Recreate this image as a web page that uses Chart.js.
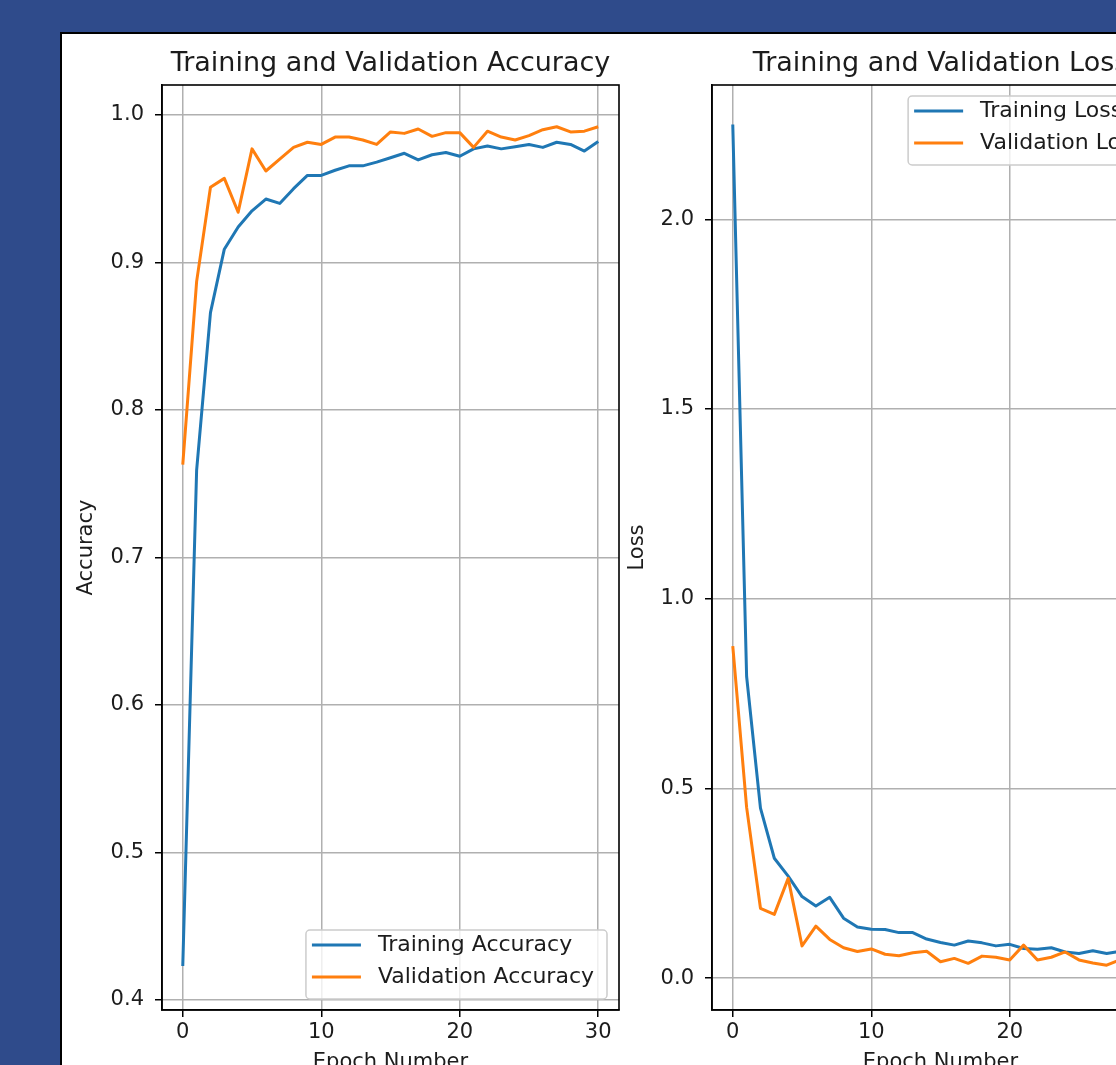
<!DOCTYPE html>
<html>
<head>
<meta charset="utf-8">
<script src="https://cdn.jsdelivr.net/npm/chart.js@4.4.0/dist/chart.umd.min.js"></script>
<style>
  html, body { margin: 0; padding: 0; }
  body { width: 1116px; height: 1065px; overflow: hidden; background: #2f4b8b; position: relative; }
  #figure { position: absolute; left: 60px; top: 32px; width: 1100px; height: 1100px; background: #fff;
            border-left: 2px solid #000; border-top: 2px solid #000; }
  canvas { position: absolute; }
  #accChart { left: 62px; top: 34px; }
  #lossChart { left: 612px; top: 34px; }
</style>
</head>
<body>
<div id="figure"></div>
<canvas id="accChart" width="578" height="1066"></canvas>
<canvas id="lossChart" width="578" height="1066"></canvas>
<script>
// Data
const epochs = [0, 1, 2, 3, 4, 5, 6, 7, 8, 9, 10, 11, 12, 13, 14, 15, 16, 17, 18, 19, 20,
                21, 22, 23, 24, 25, 26, 27, 28, 29, 30];
const trainAcc = [0.423, 0.759, 0.866, 0.909, 0.924, 0.935, 0.943, 0.940, 0.950, 0.959, 0.959,
                  0.9625, 0.9655, 0.9655, 0.968, 0.971, 0.974, 0.9695, 0.973, 0.9745, 0.972,
                  0.977, 0.979, 0.977, 0.9785, 0.980, 0.978, 0.9815, 0.980, 0.9755, 0.982];
const valAcc = [0.763, 0.887, 0.951, 0.957, 0.934, 0.977, 0.962, 0.970, 0.978, 0.9815, 0.980,
                0.985, 0.985, 0.983, 0.980, 0.9885, 0.9875, 0.9905, 0.9855, 0.988, 0.988,
                0.978, 0.989, 0.985, 0.983, 0.986, 0.990, 0.992, 0.9885, 0.989, 0.992];
const trainLoss = [2.25, 0.795, 0.448, 0.316, 0.269, 0.215, 0.190, 0.213, 0.158, 0.135, 0.129,
                   0.128, 0.120, 0.120, 0.103, 0.094, 0.087, 0.098, 0.093, 0.085, 0.089,
                   0.078, 0.076, 0.080, 0.069, 0.065, 0.072, 0.065, 0.071, 0.066, 0.062];
const valLoss = [0.875, 0.45, 0.184, 0.168, 0.263, 0.085, 0.137, 0.102, 0.080, 0.070, 0.077,
                 0.063, 0.059, 0.067, 0.071, 0.043, 0.052, 0.039, 0.058, 0.055, 0.048,
                 0.087, 0.048, 0.055, 0.069, 0.048, 0.040, 0.034, 0.049, 0.040, 0.030];

const epochTicks = [0, 10, 20, 30];
const accTicks = [0.4, 0.5, 0.6, 0.7, 0.8, 0.9, 1.0];
const lossTicks = [0.0, 0.5, 1.0, 1.5, 2.0];

const BLUE = '#1f77b4';
const ORANGE = '#ff7f0e';
const TEXT = '#1c1c1c';

Chart.defaults.font.family = '"DejaVu Sans", sans-serif';
Chart.defaults.color = TEXT;

// matplotlib look: frame on all four sides, title above the axes, legend box inside
const mplFrame = {
    id: 'mplFrame',
    afterDatasetsDraw(chart) {
        const { ctx, chartArea: a } = chart;
        ctx.save();
        ctx.strokeStyle = '#000';
        ctx.lineWidth = 1.6;
        ctx.strokeRect(a.left, a.top, a.right - a.left, a.bottom - a.top);
        ctx.restore();
    },
    afterDraw(chart, args, opts) {
        const { ctx, chartArea: a } = chart;
        ctx.save();
        ctx.fillStyle = TEXT;
        ctx.font = '27px "DejaVu Sans"';
        ctx.textAlign = 'center';
        ctx.textBaseline = 'alphabetic';
        ctx.fillText(opts.title, (a.left + a.right) / 2, a.top - 14);

        const sets = chart.data.datasets;
        ctx.font = '22px "DejaVu Sans"';
        const textW = Math.max(...sets.map(d => ctx.measureText(d.label).width));
        const w = 73 + textW + 12, h = 69;
        const x = a.right - 12 - w;
        const y = opts.legendAt === 'bottom' ? a.bottom - 11 - h : a.top + 11;
        ctx.beginPath();
        ctx.roundRect(x, y, w, h, 4);
        ctx.fillStyle = 'rgba(255,255,255,0.8)';
        ctx.fill();
        ctx.strokeStyle = '#cccccc';
        ctx.lineWidth = 1.5;
        ctx.stroke();
        sets.forEach((d, i) => {
            const ly = y + 15 + i * 32;
            ctx.strokeStyle = d.borderColor;
            ctx.lineWidth = 3;
            ctx.beginPath();
            ctx.moveTo(x + 6, ly);
            ctx.lineTo(x + 55, ly);
            ctx.stroke();
            ctx.fillStyle = TEXT;
            ctx.textAlign = 'left';
            ctx.textBaseline = 'middle';
            ctx.fillText(d.label, x + 72, ly);
        });
        ctx.restore();
    }
};

function makeChart(id, cfg) {
    const toPoints = vals => epochs.map((e, i) => ({ x: e, y: vals[i] }));
    return new Chart(document.getElementById(id), {
        type: 'line',
        data: {
            datasets: [
                { label: cfg.labels[0], data: toPoints(cfg.train), borderColor: BLUE, order: 1 },
                { label: cfg.labels[1], data: toPoints(cfg.val), borderColor: ORANGE, order: 0 }
            ]
        },
        options: {
            responsive: false,
            animation: false,
            devicePixelRatio: 1,
            layout: { padding: { top: 51, right: 21, bottom: 0, left: 0 } },
            elements: {
                point: { radius: 0 },
                line: { borderWidth: 3, tension: 0, borderJoinStyle: 'round', fill: false }
            },
            plugins: {
                legend: { display: false },
                tooltip: { enabled: false },
                mplFrame: { title: cfg.title, legendAt: cfg.legendAt }
            },
            scales: {
                x: {
                    type: 'linear',
                    min: -1.5,
                    max: 31.5,
                    afterBuildTicks: s => { s.ticks = epochTicks.map(v => ({ value: v })); },
                    afterFit: s => { s.height = 90; },
                    grid: { color: '#b0b0b0', lineWidth: 1.5, tickLength: 7, tickColor: '#000', tickWidth: 1.5 },
                    border: { color: '#000', width: 1.6 },
                    ticks: { font: { size: 21 }, padding: 3, color: TEXT, maxRotation: 0, callback: v => String(v) },
                    title: { display: true, text: 'Epoch Number', font: { size: 21 }, color: TEXT,
                             padding: { top: 0, bottom: 25 } }
                },
                y: {
                    type: 'linear',
                    min: cfg.yMin,
                    max: cfg.yMax,
                    afterBuildTicks: s => { s.ticks = cfg.ticks.map(v => ({ value: v })); },
                    afterFit: s => { s.width = 100; },
                    grid: { color: '#b0b0b0', lineWidth: 1.5, tickLength: 7, tickColor: '#000', tickWidth: 1.5 },
                    border: { color: '#000', width: 1.6 },
                    ticks: { font: { size: 21 }, padding: 11, color: TEXT, callback: v => v.toFixed(1) },
                    title: { display: true, text: cfg.yTitle, font: { size: 21 }, color: TEXT,
                             padding: { top: cfg.yTitlePad, bottom: 0 } }
                }
            }
        },
        plugins: [mplFrame]
    });
}

makeChart('accChart', {
    title: 'Training and Validation Accuracy',
    labels: ['Training Accuracy', 'Validation Accuracy'],
    train: trainAcc,
    val: valAcc,
    ticks: accTicks,
    yMin: 0.3932,
    yMax: 1.0203,
    yTitle: 'Accuracy',
    yTitlePad: 12,
    legendAt: 'bottom'
});

makeChart('lossChart', {
    title: 'Training and Validation Loss',
    labels: ['Training Loss', 'Validation Loss'],
    train: trainLoss,
    val: valLoss,
    ticks: lossTicks,
    yMin: -0.084,
    yMax: 2.354,
    yTitle: 'Loss',
    yTitlePad: 13,
    legendAt: 'top'
});
</script>
</body>
</html>
